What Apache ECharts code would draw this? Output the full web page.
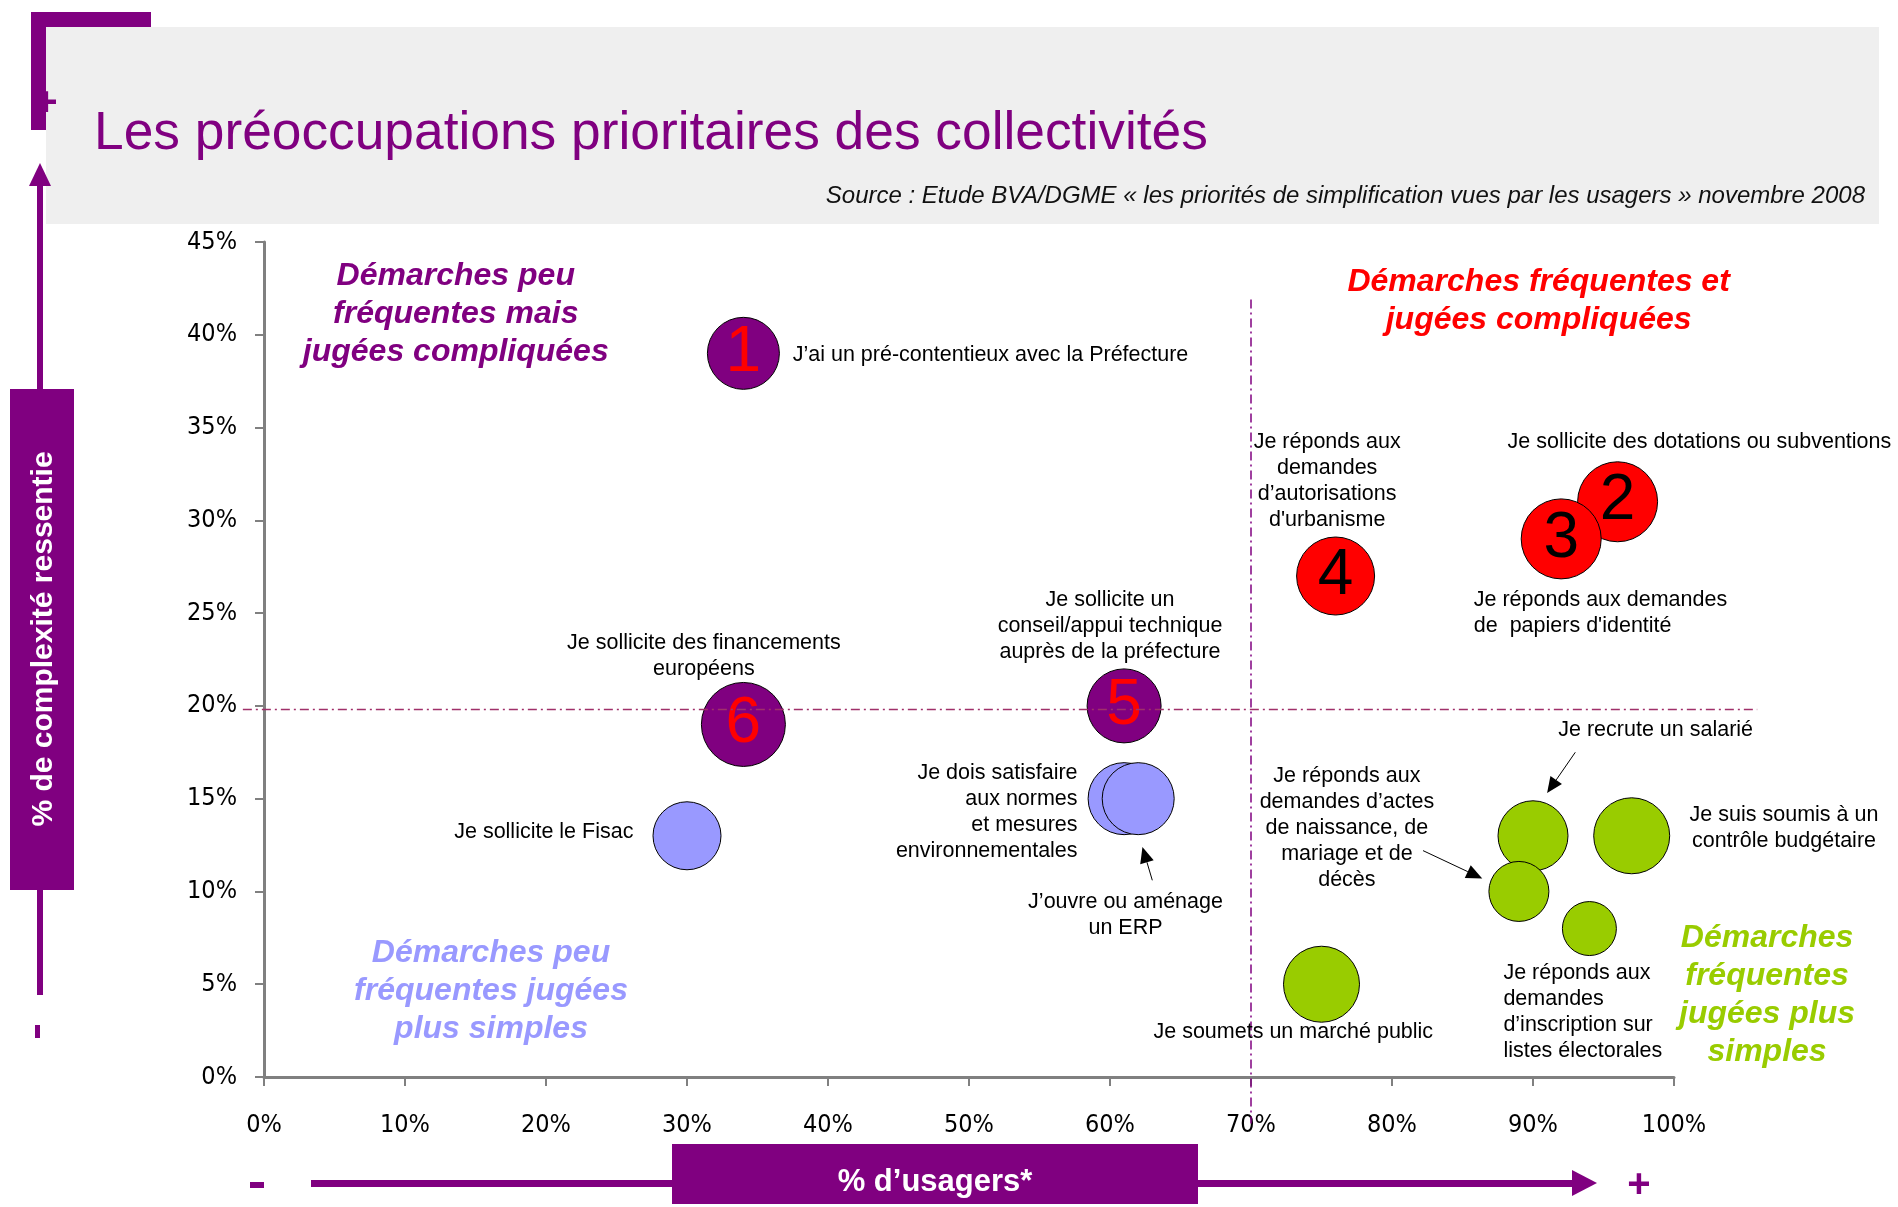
<!DOCTYPE html>
<html>
<head>
<meta charset="utf-8">
<script src="https://cdn.jsdelivr.net/npm/echarts@6/dist/echarts.min.js"></script>
<style>
html,body{margin:0;padding:0;background:#fff}
#main{width:1898px;height:1207px}
</style>
</head>
<body>
<div id="main"></div>
<script>
// données
var libelles = [
    "J’ai un pré-contentieux avec la Préfecture",
    "Je sollicite des dotations ou subventions",
    "Je réponds aux demandes\nde  papiers d'identité",
    "Je réponds aux\ndemandes\nd’autorisations\nd'urbanisme",
    "Je sollicite un\nconseil/appui technique\nauprès de la préfecture",
    "Je sollicite des financements\neuropéens",
    "Je sollicite le Fisac",
    "Je dois satisfaire\naux normes\net mesures\nenvironnementales",
    "J’ouvre ou aménage\nun ERP",
    "Je recrute un salarié",
    "Je suis soumis à un\ncontrôle budgétaire",
    "Je réponds aux\ndemandes d’actes\nde naissance, de\nmariage et de\ndécès",
    "Je réponds aux\ndemandes\nd’inscription sur\nlistes électorales",
    "Je soumets un marché public"
];
var numeros   = ['1', '2', '3', '4', '5', '6', '', '', '', '', '', '', '', ''];
var usagers   = [34, 96, 92, 76, 61, 34, 30, 61, 62, 90, 97, 89, 94, 75];
var complexite = [39, 31, 29, 27, 20, 19, 13, 15, 15, 13, 13, 10, 8, 5];
var poids     = [36, 40, 40, 39, 37, 42, 34, 36, 36, 35, 38, 30, 27, 38];
var groupes   = ['pc', 'fc', 'fc', 'fc', 'pc', 'pc', 'ps', 'ps', 'ps', 'fs', 'fs', 'fs', 'fs', 'fs'];

var seuilUsagers = 70;
var seuilComplexite = 19.8;

// mise en page des libellés (coordonnées dans le repère du graphique)
var posLibelles = [
    [37.5, 38.9, 'left'], [88.2, 34.2, 'left'], [85.8, 25.0, 'left'], [75.4, 32.1, 'center'],
    [60.0, 24.3, 'center'], [31.2, 22.7, 'center'], [26.2, 13.2, 'right'], [57.7, 14.3, 'right'],
    [61.1, 8.7, 'center'], [98.7, 18.7, 'center'], [107.8, 13.4, 'center'], [76.8, 13.4, 'center'],
    [87.9, 3.5, 'left'], [73.0, 2.4, 'center']
];
var fleches = [
    [[63.0, 10.6], [62.3, 12.4]],
    [[82.2, 12.2], [86.4, 10.7]],
    [[93.0, 17.5], [91.0, 15.3]]
];
var quadrants = [
    {t: 'Démarches peu\nfréquentes mais\njugées compliquées', c: '#800080', p: [13.6, 41.1]},
    {t: 'Démarches fréquentes et\njugées compliquées', c: '#ff0000', p: [90.4, 41.8]},
    {t: 'Démarches peu\nfréquentes jugées\nplus simples', c: '#9999ff', p: [16.1, 4.6]},
    {t: 'Démarches\nfréquentes\njugées plus\nsimples', c: '#99cc00', p: [106.6, 4.4]}
];

var couleurs = {pc: '#800080', fc: '#ff0000', ps: '#9999ff', fs: '#99cc00'};
var couleursNum = {pc: '#ff0000', fc: '#000000', ps: '#000', fs: '#000'};
var violet = '#800080';
var axisFont = '"DejaVu Sans Condensed", "Liberation Sans Narrow", sans-serif';
var txtFont = '"Liberation Sans", Arial, sans-serif';

var myChart = echarts.init(document.getElementById('main'));

var bulles = [];
for (var i = 0; i < usagers.length; i++) {
    bulles.push({
        value: [usagers[i], complexite[i], poids[i]],
        itemStyle: {color: couleurs[groupes[i]]},
        label: {formatter: numeros[i], color: couleursNum[groupes[i]]}
    });
}

option = {
    animation: false,
    grid: {left: 264, right: 224, top: 242, bottom: 130},
    xAxis: {
        type: 'value', min: 0, max: 100, interval: 10,
        axisLine: {show: true, lineStyle: {color: '#808080', width: 3}},
        axisTick: {show: true, length: 9, lineStyle: {color: '#808080', width: 2}},
        axisLabel: {formatter: '{value}%', margin: 36, fontFamily: axisFont, fontSize: 25, color: '#000'},
        splitLine: {show: false}
    },
    yAxis: {
        type: 'value', min: 0, max: 45, interval: 5,
        axisLine: {show: true, lineStyle: {color: '#808080', width: 3}},
        axisTick: {show: true, length: 9, lineStyle: {color: '#808080', width: 2}},
        axisLabel: {formatter: '{value}%', margin: 27, fontFamily: axisFont, fontSize: 25, color: '#000'},
        splitLine: {show: false}
    },
    series: [{
        type: 'scatter',
        clip: false,
        data: bulles,
        symbolSize: function (v) { return v[2] * 2; },
        itemStyle: {borderColor: '#000', borderWidth: 1, opacity: 1},
        label: {show: true, position: 'inside', fontFamily: txtFont, fontSize: 64}
    }]
};
myChart.setOption(option);

function px(p) { return myChart.convertToPixel({gridIndex: 0}, p); }

var g = [];
// bandeau du titre
g.push({type: 'rect', shape: {x: 46, y: 27, width: 1833, height: 197}, style: {fill: '#efefef'}, z: 0});
g.push({type: 'rect', shape: {x: 31, y: 12, width: 120, height: 15}, style: {fill: violet}, z: 1});
g.push({type: 'rect', shape: {x: 31, y: 12, width: 15, height: 118}, style: {fill: violet}, z: 1});
g.push({type: 'text', style: {text: '+', x: 46, y: 104, fill: violet, font: 'bold 40px ' + txtFont, align: 'center', verticalAlign: 'middle'}, z: 2});
g.push({type: 'text', style: {text: 'Les préoccupations prioritaires des collectivités', x: 94, y: 134, fill: violet, font: '53.3px ' + txtFont, align: 'left', verticalAlign: 'middle'}, z: 2});
g.push({type: 'text', style: {text: 'Source : Etude BVA/DGME « les priorités de simplification vues par les usagers » novembre 2008', x: 1865, y: 196, fill: '#111', font: 'italic 24px ' + txtFont, align: 'right', verticalAlign: 'middle'}, z: 2});

// axe vertical décoratif
g.push({type: 'rect', shape: {x: 37, y: 180, width: 6, height: 815}, style: {fill: violet}, z: 1});
g.push({type: 'polygon', shape: {points: [[40, 163], [29, 186], [51, 186]]}, style: {fill: violet}, z: 1});
g.push({type: 'rect', shape: {x: 10, y: 389, width: 64, height: 501}, style: {fill: violet}, z: 2});
g.push({type: 'text', x: 44, y: 639, rotation: Math.PI / 2, style: {text: '% de complexité ressentie', x: 0, y: 0, fill: '#fff', font: 'bold 30px ' + txtFont, align: 'center', verticalAlign: 'middle'}, z: 3});
g.push({type: 'rect', shape: {x: 35, y: 1025, width: 5, height: 13}, style: {fill: violet}, z: 1});

// axe horizontal décoratif
g.push({type: 'rect', shape: {x: 250, y: 1182, width: 14, height: 6}, style: {fill: violet}, z: 1});
g.push({type: 'rect', shape: {x: 311, y: 1180, width: 1270, height: 7}, style: {fill: violet}, z: 1});
g.push({type: 'polygon', shape: {points: [[1597, 1183], [1572, 1170], [1572, 1196]]}, style: {fill: violet}, z: 1});
g.push({type: 'rect', shape: {x: 672, y: 1144, width: 526, height: 60}, style: {fill: violet}, z: 2});
g.push({type: 'text', style: {text: '% d’usagers*', x: 935, y: 1182, fill: '#fff', font: 'bold 31px ' + txtFont, align: 'center', verticalAlign: 'middle'}, z: 3});
g.push({type: 'text', style: {text: '+', x: 1639, y: 1186, fill: violet, font: 'bold 40px ' + txtFont, align: 'center', verticalAlign: 'middle'}, z: 2});

// lignes de séparation des quadrants
var a = px([seuilUsagers, 41.9]), b = px([seuilUsagers, -2.5]);
g.push({type: 'line', shape: {x1: a[0], y1: a[1], x2: b[0], y2: b[1]}, style: {stroke: violet, lineWidth: 1.5, lineDash: [9, 4, 2, 4]}, z: 3});
a = px([-1.5, seuilComplexite]); b = px([105.9, seuilComplexite]);
g.push({type: 'line', shape: {x1: a[0], y1: a[1], x2: b[0], y2: b[1]}, style: {stroke: '#a0306a', lineWidth: 1.5, lineDash: [9, 4, 2, 4]}, z: 3});

// libellés des démarches
posLibelles.forEach(function (p, i) {
    var q = px([p[0], p[1]]);
    g.push({type: 'text', style: {text: libelles[i], x: q[0], y: q[1], fill: '#000', font: '21.5px ' + txtFont, lineHeight: 26, align: p[2], verticalAlign: 'middle'}, z: 4});
});

// flèches
fleches.forEach(function (f) {
    var s = px(f[0]), e = px(f[1]);
    var ang = Math.atan2(e[1] - s[1], e[0] - s[0]);
    var L = 16, w = 7;
    var bx = e[0] - L * Math.cos(ang), by = e[1] - L * Math.sin(ang);
    g.push({type: 'line', shape: {x1: s[0], y1: s[1], x2: bx, y2: by}, style: {stroke: '#000', lineWidth: 1}, z: 4});
    g.push({type: 'polygon', shape: {points: [e, [bx + w * Math.sin(ang), by - w * Math.cos(ang)], [bx - w * Math.sin(ang), by + w * Math.cos(ang)]]}, style: {fill: '#000'}, z: 4});
});

// titres des quadrants
quadrants.forEach(function (d) {
    var q = px(d.p);
    g.push({type: 'text', style: {text: d.t, x: q[0], y: q[1], fill: d.c, font: 'italic bold 32px ' + txtFont, lineHeight: 38, align: 'center', verticalAlign: 'middle'}, z: 4});
});

myChart.setOption({graphic: {elements: g}});
</script>
</body>
</html>
